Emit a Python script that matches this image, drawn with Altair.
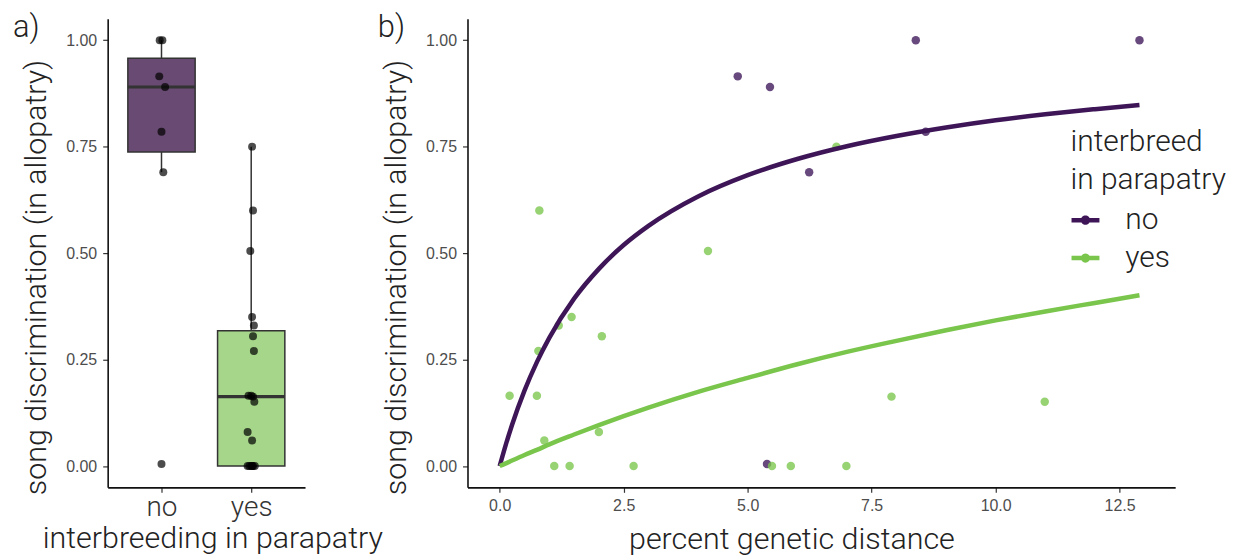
import altair as alt
import pandas as pd
import numpy as np

# ---------------- data ----------------
groups = ["no", "yes"]

no_dist = [4.80, 5.45, 8.39, 12.90, 6.24, 8.59, 5.39]
no_disc = [0.915, 0.890, 1.000, 1.000, 0.690, 0.785, 0.005]
no_jitter = [-0.025, 0.04, -0.02, 0.01, 0.02, 0.0, 0.0]

yes_dist = [0.80, 4.20, 6.79, 0.20, 0.75, 0.78, 1.19, 1.45, 2.06, 0.90,
            2.00, 1.10, 1.41, 2.70, 5.49, 5.87, 6.99, 7.90, 10.99]
yes_disc = [0.600, 0.505, 0.750, 0.165, 0.165, 0.270, 0.330, 0.350, 0.305, 0.060,
            0.080, 0.000, 0.000, 0.000, 0.000, 0.000, 0.000, 0.163, 0.151]
yes_jitter = [0.02, -0.01, 0.01, -0.03, 0.0, 0.03, 0.03, 0.01, 0.02, 0.01,
              -0.04, -0.04, -0.02, 0.0, 0.02, 0.04, 0.01, 0.02, 0.035]

curve_x = [0.0, 0.1, 0.25, 0.5, 0.75, 1.0, 1.5, 2.0, 2.5, 3.0, 4.0, 5.0,
           6.0, 7.0, 8.0, 9.0, 10.0, 11.0, 12.0, 12.9]
curve_no = [0.0, 0.041, 0.097, 0.177, 0.244, 0.301, 0.393, 0.463, 0.519, 0.564,
            0.633, 0.683, 0.721, 0.751, 0.775, 0.795, 0.812, 0.826, 0.838, 0.848]
curve_yes = [0.0, 0.005, 0.013, 0.026, 0.038, 0.051, 0.074, 0.096, 0.117, 0.137,
             0.174, 0.207, 0.239, 0.268, 0.294, 0.319, 0.342, 0.363, 0.383, 0.401]

y_ticks = [0.0, 0.25, 0.5, 0.75, 1.0]
x_ticks_b = [0.0, 2.5, 5.0, 7.5, 10.0, 12.5]

# ---------------- styles ----------------
LIGHT = "Roboto"
LW = 300
TICKF = "Liberation Sans"
line_colors = ["#3e1658", "#7ac54c"]
box_fills = ["#684a72", "#a6d68a"]
TITLE_SIZE = 30.5
LEG_SIZE = 30
CAT_SIZE = 28
LABEL_SIZE = 16

# ---------------- tables ----------------
pts = pd.DataFrame({
    "group": ["no"] * len(no_disc) + ["yes"] * len(yes_disc),
    "dist": no_dist + yes_dist,
    "disc": no_disc + yes_disc,
    "jit": no_jitter + yes_jitter,
})
pts["idx"] = pts["group"].map({g: i + 1 for i, g in enumerate(groups)})
pts["xpos"] = pts["idx"] + pts["jit"]

rows = []
for i, g in enumerate(groups):
    v = np.array(pts.loc[pts.group == g, "disc"])
    q1, med, q3 = np.quantile(v, [0.25, 0.5, 0.75])
    iqr = q3 - q1
    lo = v[v >= q1 - 1.5 * iqr].min()
    hi = v[v <= q3 + 1.5 * iqr].max()
    rows.append(dict(group=g, idx=i + 1, left=i + 1 - 0.375, right=i + 1 + 0.375,
                     q1=q1, med=med, q3=q3, lo=lo, hi=hi, fill=box_fills[i]))
box = pd.DataFrame(rows)

curves = pd.DataFrame({
    "group": ["no"] * len(curve_x) + ["yes"] * len(curve_x),
    "dist": curve_x + curve_x,
    "disc": curve_no + curve_yes,
})

# ---------------- axes ----------------
def y_axis():
    return alt.Axis(values=y_ticks, format=".2f", title="song discrimination (in allopatry)",
                    titleFont=LIGHT, titleFontWeight=LW, titleFontSize=TITLE_SIZE,
                    titleColor="#222222", titlePadding=14, titleY=259,
                    labelFont=TICKF, labelFontSize=LABEL_SIZE, labelColor="#4d4d4d",
                    labelPadding=6, tickSize=5, tickColor="#333333", tickWidth=1.2,
                    domainColor="#111111", domainWidth=1.6, grid=False)

yscale = alt.Scale(domain=[-0.05, 1.05], nice=False, zero=False)

# ---------------- panel a ----------------
xa_scale = alt.Scale(domain=[0.4, 2.6], nice=False, zero=False)
xa_axis = alt.Axis(values=[1, 2], labelExpr="datum.value == 1 ? 'no' : 'yes'",
                   title="interbreeding in parapatry",
                   titleFont=LIGHT, titleFontWeight=LW, titleFontSize=TITLE_SIZE,
                   titleColor="#222222", titlePadding=2, titleX=105,
                   labelFont=LIGHT, labelFontWeight=LW, labelFontSize=CAT_SIZE,
                   labelColor="#333333", labelPadding=1,
                   tickSize=5, tickColor="#333333", tickWidth=1.2,
                   domainColor="#111111", domainWidth=1.6, grid=False)

base_a = alt.Chart(box)
whisk_lo = base_a.mark_rule(color="#333333", strokeWidth=1.5).encode(
    x=alt.X("idx:Q", scale=xa_scale, axis=xa_axis),
    y=alt.Y("lo:Q", scale=yscale, axis=y_axis()),
    y2="q1:Q")
whisk_hi = base_a.mark_rule(color="#333333", strokeWidth=1.5).encode(
    x=alt.X("idx:Q", scale=xa_scale), y=alt.Y("q3:Q", scale=yscale), y2="hi:Q")
boxes = base_a.mark_rect(stroke="#333333", strokeWidth=1.5).encode(
    x=alt.X("left:Q", scale=xa_scale), x2="right:Q",
    y=alt.Y("q1:Q", scale=yscale), y2="q3:Q",
    fill=alt.Fill("fill:N", scale=None))
medians = base_a.mark_rule(color="#333333", strokeWidth=3.2).encode(
    x=alt.X("left:Q", scale=xa_scale), x2="right:Q",
    y=alt.Y("med:Q", scale=yscale))
pts_a = alt.Chart(pts).mark_circle(size=64, color="black", opacity=0.7).encode(
    x=alt.X("xpos:Q", scale=xa_scale), y=alt.Y("disc:Q", scale=yscale))
lab_a = alt.Chart(pd.DataFrame({"t": ["a)"]})).mark_text(
    font=LIGHT, fontWeight=LW, fontSize=31, align="left", baseline="top",
    color="#222222").encode(text="t:N", x=alt.value(-95), y=alt.value(-6))

no_frame = alt.ViewBackground(stroke="transparent", strokeWidth=0)
panel_a = alt.layer(whisk_lo, whisk_hi, boxes, medians, pts_a, lab_a).properties(
    width=198, height=470, view=no_frame)

# ---------------- panel b ----------------
xb_scale = alt.Scale(domain=[-0.649, 13.62], nice=False, zero=False)
xb_axis = alt.Axis(values=x_ticks_b, format=".1f", title="percent genetic distance",
                   titleFont=LIGHT, titleFontWeight=LW, titleFontSize=TITLE_SIZE,
                   titleColor="#222222", titlePadding=11, titleX=325,
                   labelFont=TICKF, labelFontSize=LABEL_SIZE, labelColor="#4d4d4d",
                   labelPadding=5, tickSize=5, tickColor="#333333", tickWidth=1.2,
                   domainColor="#111111", domainWidth=1.6, grid=False)
color_scale = alt.Scale(domain=groups, range=line_colors)

lines_b = alt.Chart(curves).mark_line(strokeWidth=4.5, interpolate="monotone").encode(
    x=alt.X("dist:Q", scale=xb_scale, axis=xb_axis),
    y=alt.Y("disc:Q", scale=yscale, axis=y_axis()),
    color=alt.Color("group:N", scale=color_scale, legend=None))

legend_sym = ("M-1,-0.16H1V0.16H-1Z "
              "M-0.33,0A0.33,0.33 0 1,1 0.33,0A0.33,0.33 0 1,1 -0.33,0Z")
pts_b = alt.Chart(pts).mark_circle(size=72, opacity=0.78).encode(
    x=alt.X("dist:Q", scale=xb_scale), y=alt.Y("disc:Q", scale=yscale),
    color=alt.Color("group:N", scale=color_scale,
                    legend=alt.Legend(title=["interbreed", "in parapatry"],
                                      orient="none", legendX=605, legendY=109,
                                      titleFont=LIGHT, titleFontWeight=LW,
                                      titleFontSize=LEG_SIZE, titleColor="#222222",
                                      titleLineHeight=38, titlePadding=10,
                                      labelFont=LIGHT, labelFontWeight=LW,
                                      labelFontSize=LEG_SIZE, labelColor="#222222",
                                      labelOffset=25, rowPadding=8,
                                      symbolType=legend_sym, symbolSize=784,
                                      symbolOpacity=1, symbolStrokeWidth=0)))
lab_b = alt.Chart(pd.DataFrame({"t": ["b)"]})).mark_text(
    font=LIGHT, fontWeight=LW, fontSize=31, align="left", baseline="top",
    color="#222222").encode(text="t:N", x=alt.value(-90), y=alt.value(-6))

panel_b = alt.layer(pts_b, lines_b, lab_b).properties(width=710, height=470, view=no_frame)

chart = alt.hconcat(panel_a, panel_b, spacing=163, bounds="flush").resolve_scale(
    color="independent", x="independent", y="independent"
).properties(
    padding={"left": 5, "top": 3, "right": 5, "bottom": 5}
).configure_view(strokeWidth=0, stroke="transparent").configure(background="white")

chart.save("out.html", embed_options={"renderer": "svg", "actions": False})
